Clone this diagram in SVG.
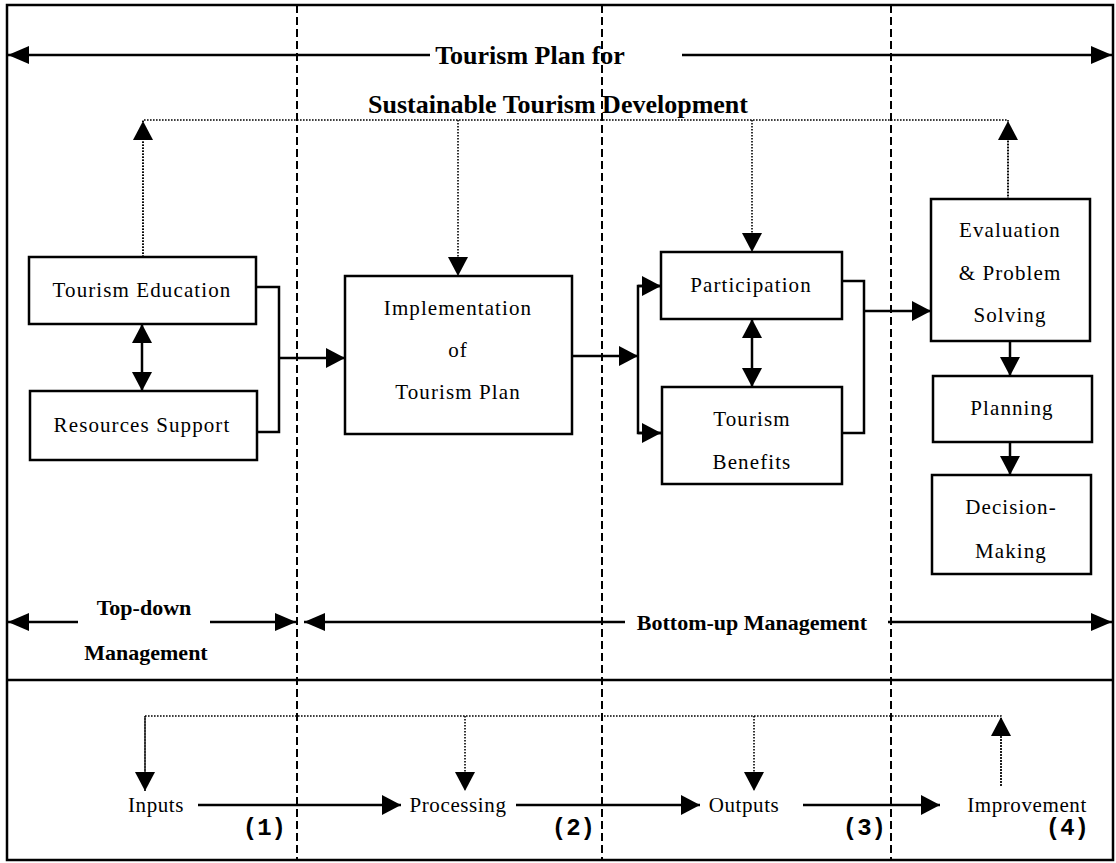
<svg xmlns="http://www.w3.org/2000/svg" width="1116" height="863" viewBox="0 0 1116 863">
<style>
.box{fill:#fff;stroke:#000;stroke-width:2.5}
.lbl{font-family:"Liberation Serif","Times New Roman",serif;font-size:21px;letter-spacing:1.1px;fill:#000;text-anchor:middle}
.blbl{font-family:"Liberation Serif","Times New Roman",serif;font-size:21px;letter-spacing:0.6px;fill:#000;text-anchor:middle}
.ttl{font-family:"Liberation Serif","Times New Roman",serif;font-size:26px;font-weight:bold;fill:#000;text-anchor:middle}
.mg{font-family:"Liberation Serif","Times New Roman",serif;font-size:22px;font-weight:bold;fill:#000;text-anchor:middle}
.num{font-family:"Liberation Mono","Courier New",monospace;font-size:24px;font-weight:bold;fill:#000;text-anchor:end}
.solid{fill:none;stroke:#000;stroke-width:2.5}
.dash{fill:none;stroke:#000;stroke-width:2;stroke-dasharray:8 4}
.dot{fill:none;stroke:#000;stroke-width:1.6;stroke-dasharray:1.6 1.4}
</style>
<defs>
<marker id="ah" markerUnits="userSpaceOnUse" markerWidth="20" markerHeight="20" refX="19" refY="10" orient="auto-start-reverse" viewBox="0 0 20 20">
<path d="M0,0 L19,10 L0,20 Z" fill="#000" stroke="none"/>
</marker>
<marker id="ahw" markerUnits="userSpaceOnUse" markerWidth="22" markerHeight="18" refX="21" refY="9" orient="auto-start-reverse" viewBox="0 0 22 18">
<path d="M0,0 L21,9 L0,18 Z" fill="#000" stroke="none"/>
</marker>
</defs>
<rect x="0" y="0" width="1116" height="863" fill="#fff"/>
<g id="frame">
<rect x="7" y="5" width="1106" height="855" fill="none" stroke="#000" stroke-width="2.5"/>
<line x1="7" y1="680" x2="1113" y2="680" stroke="#000" stroke-width="2.5"/>
<line class="dash" x1="297" y1="5" x2="297" y2="860"/>
<line class="dash" x1="602" y1="5" x2="602" y2="860"/>
<line class="dash" x1="891" y1="5" x2="891" y2="860"/>
</g>
<g id="titles">
<text class="ttl" x="530" y="64">Tourism Plan for</text>
<text class="ttl" x="558" y="113">Sustainable Tourism Development</text>
<text class="mg" x="144" y="615">Top-down</text>
<text class="mg" x="146" y="660">Management</text>
<text class="mg" x="752" y="630">Bottom-up Management</text>
</g>
<g id="connectors">
<line class="solid" x1="430" y1="55" x2="8" y2="55" marker-end="url(#ahw)"/>
<line class="solid" x1="682" y1="55" x2="1112" y2="55" marker-end="url(#ahw)"/>
<line class="solid" x1="78" y1="622" x2="8" y2="622" marker-end="url(#ahw)"/>
<line class="solid" x1="210" y1="622" x2="296" y2="622" marker-end="url(#ahw)"/>
<line class="solid" x1="625" y1="622" x2="304" y2="622" marker-end="url(#ahw)"/>
<line class="solid" x1="888" y1="622" x2="1112" y2="622" marker-end="url(#ahw)"/>
<polyline class="dot" points="143,257 143,120 1008,120 1008,199"/>
<line class="dot" x1="143" y1="257" x2="143" y2="121" marker-end="url(#ah)"/>
<line class="dot" x1="1008" y1="199" x2="1008" y2="121" marker-end="url(#ah)"/>
<line class="dot" x1="458" y1="120" x2="458" y2="276" marker-end="url(#ah)"/>
<line class="dot" x1="752" y1="120" x2="752" y2="252" marker-end="url(#ah)"/>
<line class="solid" x1="142" y1="324" x2="142" y2="391" marker-start="url(#ah)" marker-end="url(#ah)"/>
<polyline class="solid" points="256,287 279,287 279,432 257,432"/>
<line class="solid" x1="279" y1="358" x2="345" y2="358" marker-end="url(#ah)"/>
<line class="solid" x1="572" y1="356" x2="638" y2="356" marker-end="url(#ah)"/>
<polyline class="solid" points="661,286 638,286 638,433 661,433"/>
<line class="solid" x1="638" y1="286" x2="661" y2="286" marker-end="url(#ah)"/>
<line class="solid" x1="638" y1="433" x2="661" y2="433" marker-end="url(#ah)"/>
<line class="solid" x1="752" y1="319" x2="752" y2="387" marker-start="url(#ah)" marker-end="url(#ah)"/>
<polyline class="solid" points="842,281 864,281 864,433 842,433"/>
<line class="solid" x1="864" y1="311" x2="931" y2="311" marker-end="url(#ah)"/>
<line class="solid" x1="1010" y1="341" x2="1010" y2="376" marker-end="url(#ah)"/>
<line class="solid" x1="1010" y1="442" x2="1010" y2="475" marker-end="url(#ah)"/>
<polyline class="dot" points="145,791 145,716 1001,716 1001,786"/>
<line class="dot" x1="145" y1="716" x2="145" y2="791" marker-end="url(#ah)"/>
<line class="dot" x1="465" y1="716" x2="465" y2="791" marker-end="url(#ah)"/>
<line class="dot" x1="754" y1="716" x2="754" y2="791" marker-end="url(#ah)"/>
<line class="dot" x1="1001" y1="786" x2="1001" y2="717" marker-end="url(#ah)"/>
<line class="solid" x1="198" y1="805" x2="401" y2="805" marker-end="url(#ah)"/>
<line class="solid" x1="516" y1="805" x2="700" y2="805" marker-end="url(#ah)"/>
<line class="solid" x1="803" y1="805" x2="940" y2="805" marker-end="url(#ah)"/>
</g>
<g id="tourism-education"><rect class="box" x="29" y="257" width="227" height="67"/><text class="lbl" x="142" y="297">Tourism Education</text></g>
<g id="resources-support"><rect class="box" x="30" y="391" width="227" height="69"/><text class="lbl" x="142" y="432">Resources Support</text></g>
<g id="implementation"><rect class="box" x="345" y="276" width="227" height="158"/><text class="lbl" x="458" y="315">Implementation</text><text class="lbl" x="458" y="357">of</text><text class="lbl" x="458" y="399">Tourism Plan</text></g>
<g id="participation"><rect class="box" x="661" y="252" width="181" height="67"/><text class="lbl" x="751" y="292">Participation</text></g>
<g id="tourism-benefits"><rect class="box" x="662" y="387" width="180" height="97"/><text class="lbl" x="752" y="426">Tourism</text><text class="lbl" x="752" y="469">Benefits</text></g>
<g id="evaluation"><rect class="box" x="931" y="199" width="159" height="142"/><text class="lbl" x="1010" y="237">Evaluation</text><text class="lbl" x="1010" y="280">&amp; Problem</text><text class="lbl" x="1010" y="322">Solving</text></g>
<g id="planning"><rect class="box" x="933" y="376" width="159" height="66"/><text class="lbl" x="1012" y="415">Planning</text></g>
<g id="decision-making"><rect class="box" x="932" y="475" width="159" height="99"/><text class="lbl" x="1011" y="514">Decision-</text><text class="lbl" x="1011" y="558">Making</text></g>
<g id="inputs"><text class="blbl" x="156" y="812">Inputs</text></g>
<g id="processing"><text class="blbl" x="458" y="812">Processing</text></g>
<g id="outputs"><text class="blbl" x="744" y="812">Outputs</text></g>
<g id="improvement"><text class="blbl" x="1027" y="812">Improvement</text></g>
<g id="numbers">
<text class="num" x="286" y="835">(1)</text>
<text class="num" x="595" y="835">(2)</text>
<text class="num" x="886" y="835">(3)</text>
<text class="num" x="1089" y="835">(4)</text>
</g>
</svg>
